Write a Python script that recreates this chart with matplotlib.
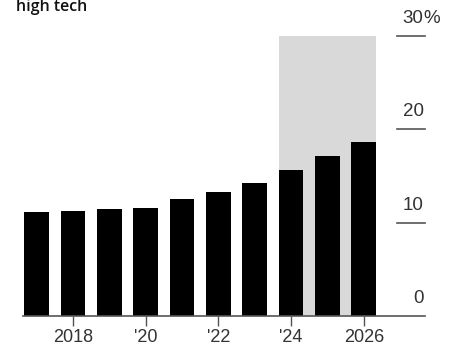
import matplotlib
matplotlib.use("Agg")
import matplotlib.pyplot as plt
import matplotlib.transforms as mtransforms

years = [2017, 2018, 2019, 2020, 2021, 2022, 2023, 2024, 2025, 2026]
values = [11.1, 11.2, 11.5, 11.6, 12.5, 13.3, 14.3, 15.6, 17.1, 18.6]
forecast_start, forecast_end = 2024, 2026
xtick_years = [2018, 2020, 2022, 2024, 2026]
xtick_labels = ["2018", "'20", "'22", "'24", "2026"]
yticks = [0, 10, 20, 30]
ytick_labels = ["0", "10", "20", "30"]
title = "high tech"

W, H = 451, 346
dpi = 100
fig = plt.figure(figsize=(W / dpi, H / dpi), dpi=dpi)

# axes in pixel geometry
ax_left_px, ax_right_px = 23, 425
ax_bottom_px, ax_top_px = 316, 36
ax = fig.add_axes([ax_left_px / W, (H - ax_bottom_px) / H,
                   (ax_right_px - ax_left_px) / W, (ax_bottom_px - ax_top_px) / H])

px_per_year = 36.35
x0_px = 73  # 2018
xmin = 2018 + (ax_left_px - x0_px) / px_per_year
xmax = 2018 + (ax_right_px - x0_px) / px_per_year
ax.set_xlim(xmin, xmax)
ax.set_ylim(0, 30)

bw = 0.68
ax.axvspan(forecast_start - bw / 2, forecast_end + bw / 2, ymin=0, ymax=1,
           color="#d9d9d9", lw=0, zorder=0)
ax.bar(years, values, width=bw, color="black", zorder=2)

for s in ["top", "right", "left"]:
    ax.spines[s].set_visible(False)
ax.spines["bottom"].set_color("#555555")
ax.spines["bottom"].set_linewidth(1.2)

ax.set_xticks(xtick_years)
ax.set_xticklabels(xtick_labels, fontsize=13, color="#333333", family="Liberation Sans")
ax.tick_params(axis="x", length=7, width=1.0, color="#555555", pad=2.5)
ax.set_yticks([])

# right-side y tick lines and labels
tr = mtransforms.blended_transform_factory(ax.transAxes, ax.transData)
line_start = (397 - ax_left_px) / (ax_right_px - ax_left_px)
for yv, lab in zip(yticks, ytick_labels):
    if yv > 0:
        ax.plot([line_start, 1.0], [yv, yv], transform=tr, color="#555555",
                lw=1.2, clip_on=False, zorder=3)
    off = mtransforms.offset_copy(tr, fig=fig, x=-1, y=13 * 72 / dpi, units="points")
    ax.text(1.0, yv, lab, transform=off, ha="right", va="baseline",
            fontsize=13.5, color="#333333", family="Liberation Sans")
    if yv == 30:
        ax.text(1.0, yv, "%", transform=off, ha="left", va="baseline",
                fontsize=13.5, color="#333333", family="Liberation Sans")

fig.text(16 / W, (H - 11) / H, title, ha="left", va="baseline",
         fontsize=11.5, fontweight="semibold", family="Open Sans", color="#111111")

fig.savefig("out.png", dpi=dpi)
